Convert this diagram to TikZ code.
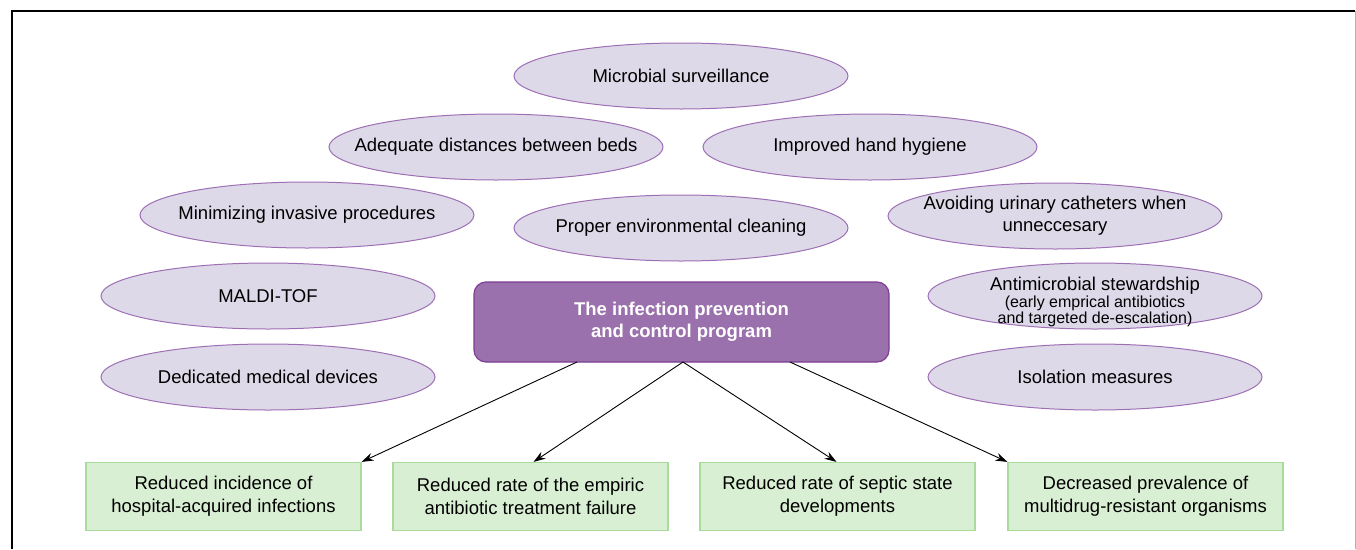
\documentclass[tikz,border=0pt]{standalone}
\usepackage{fontspec}
\setmainfont{Liberation Sans}
\usetikzlibrary{shapes.geometric,arrows.meta}
\definecolor{ellfill}{HTML}{DDD9E8}
\definecolor{elldraw}{HTML}{9E6FB5}
\definecolor{mainfill}{HTML}{9A71AC}
\definecolor{maindraw}{HTML}{7E3E93}
\definecolor{grfill}{HTML}{D9EFD3}
\definecolor{grdraw}{HTML}{A9DB9C}
\begin{document}
\begin{tikzpicture}[x=1pt,y=-1pt,
  oval/.style={ellipse,draw=elldraw,fill=ellfill,line width=1pt,minimum width=334pt,minimum height=66pt,inner sep=0pt},
  ovaltext/.style={font=\fontsize{18.5}{22}\selectfont,align=center,inner sep=0pt},
  mainbox/.style={rectangle,rounded corners=12pt,draw=maindraw,fill=mainfill,line width=1.2pt,minimum width=415pt,minimum height=80pt,font=\fontsize{18.5}{22}\selectfont\bfseries,text=white,align=center},
  outbox/.style={rectangle,draw=grdraw,fill=grfill,line width=1.2pt,minimum width=275pt,minimum height=68pt,font=\fontsize{18.5}{23}\selectfont,align=center},
  arr/.style={-{Stealth[length=12pt,width=8pt]},line width=0.9pt}]
\useasboundingbox (0,0) rectangle (1356,549);
\draw[line width=2.5pt] (12,549) -- (12,11) -- (1355,11);
\draw[gray!60,line width=1pt] (1355,11) -- (1355,549);

\node[oval,label={[ovaltext]center:Microbial surveillance}] (ms) at (681,76) {};
\node[oval,label={[ovaltext]center:Adequate distances between beds}] (ad) at (496,147) {};
\node[oval,label={[ovaltext]center:Improved hand hygiene}] (hh) at (870,147) {};
\node[oval,label={[ovaltext]center:Minimizing invasive procedures}] (mi) at (307,215) {};
\node[oval,label={[ovaltext]center:Proper environmental cleaning}] (ec) at (681,228) {};
\node[oval,label={[ovaltext]center:{Avoiding urinary catheters when\\unneccesary}}] (uc) at (1055,216) {};
\node[oval,label={[ovaltext]center:MALDI-TOF}] (md) at (268,296) {};
\node[oval,label={[ovaltext]center:Dedicated medical devices}] (dd) at (268,377) {};
\node[oval] (as) at (1095,296) {};
\node[ovaltext] (ast) at (1095,286) {Antimicrobial stewardship};
\node[font=\fontsize{16}{14.5}\selectfont,align=center,anchor=north,inner sep=0pt] (asn) at (1095,296) {(early emprical antibiotics\\and targeted de-escalation)};
\node[oval,label={[ovaltext]center:Isolation measures}] (im) at (1095,377) {};

\node[mainbox] (main) at (681.5,322) {The infection prevention\\and control program};

\node[outbox] (o1) at (223.5,496.5) {Reduced incidence of\\hospital-acquired infections};
\node[outbox] (o2) at (530.5,496.5) {Reduced rate of the empiric\\antibiotic treatment failure};
\node[outbox] (o3) at (837.5,496.5) {Reduced rate of septic state\\developments};
\node[outbox] (o4) at (1145.5,496.5) {Decreased prevalence of\\multidrug-resistant organisms};

\coordinate (s1) at (577,362);
\coordinate (s2) at (683,362);
\coordinate (s3) at (790,362);
\draw[arr] (s1) -- (o1.north east);
\draw[arr] (s2) -- ([xshift=3pt]o2.north);
\draw[arr] (s2) -- ([xshift=-1pt]o3.north);
\draw[arr] (s3) -- (o4.north west);
\end{tikzpicture}
\end{document}
